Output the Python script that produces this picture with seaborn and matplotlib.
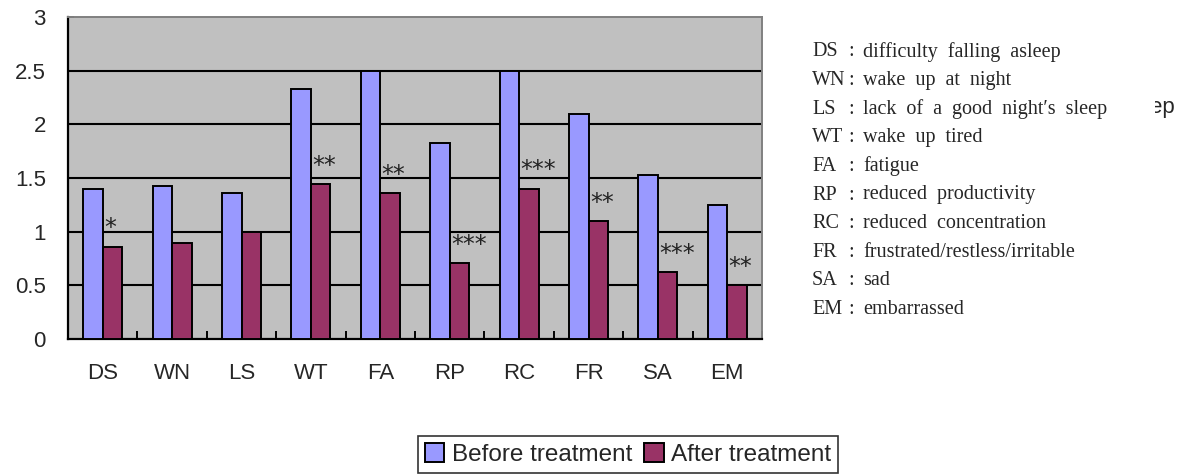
import numpy as np
import pandas as pd
import matplotlib
matplotlib.use('Agg')
import matplotlib.pyplot as plt
from matplotlib.transforms import Bbox
import seaborn as sns

sns.set_style('white')
plt.rcParams['font.family'] = ['Liberation Sans', 'DejaVu Sans']

# data
symptoms = ['DS', 'WN', 'LS', 'WT', 'FA', 'RP', 'RC', 'FR', 'SA', 'EM']
before = [1.40, 1.43, 1.36, 2.33, 2.50, 1.83, 2.50, 2.10, 1.53, 1.25]
after = [0.86, 0.89, 1.00, 1.44, 1.36, 0.71, 1.40, 1.10, 0.62, 0.50]
stars = ['*', '', '', '**', '**', '***', '***', '**', '***', '**']
meanings = ['difficulty falling asleep', 'wake up at night',
            "lack of a good night\u2032s sleep", 'wake up tired', 'fatigue',
            'reduced productivity', 'reduced concentration',
            'frustrated/restless/irritable', 'sad', 'embarrassed']

df = pd.DataFrame({'symptom': symptoms * 2,
                   'score': before + after,
                   'period': ['Before treatment'] * 10 + ['After treatment'] * 10})

fig = plt.figure(figsize=(11.85, 4.74), dpi=100)
ax = fig.add_axes([68 / 1185, 1 - 339 / 474, 694 / 1185, 322 / 474])
ax.set_facecolor('#C0C0C0')

sns.barplot(data=df, x='symptom', y='score', hue='period', ax=ax,
            palette=['#9999FF', '#993366'], saturation=1, width=0.56, gap=0,
            edgecolor='black', linewidth=1.4, zorder=3)

ax.set_ylim(0, 3)
ax.set_xlim(-0.5, 9.5)
ax.set_yticks(np.arange(0, 3.01, 0.5))
ax.set_yticklabels(['0', '0.5', '1', '1.5', '2', '2.5', '3'])
for yv in np.arange(0.5, 2.51, 0.5):
    ax.axhline(yv, color='black', lw=1.5, zorder=1)
ax.set_xlabel('')
ax.set_ylabel('')
ax.tick_params(axis='y', which='major', left=True, length=4, width=1.2,
               labelsize=16, pad=16, direction='in', color='black')
ax.tick_params(axis='x', which='major', bottom=False, labelsize=16, pad=14)
ax.set_xticks(np.arange(-0.5, 9.6, 1), minor=True)
ax.tick_params(axis='x', which='minor', bottom=True, length=6, width=1.4,
               direction='in', color='black')
for side in ['left', 'bottom']:
    ax.spines[side].set_color('black')
    ax.spines[side].set_linewidth(1.6)
for side in ['top', 'right']:
    ax.spines[side].set_color('#808080')
    ax.spines[side].set_linewidth(1.4)

# significance marks, starting at the left edge of the after-treatment bar
for i, s in enumerate(stars):
    if s:
        ax.text(i + 0.02, after[i] + 0.17, s, ha='left', va='center',
                fontsize=17, zorder=4, color='#222222', family='DejaVu Sans')

handles, labels = ax.get_legend_handles_labels()
ax.legend_.remove()
leg = fig.legend(handles, labels, loc='upper center',
                 bbox_to_anchor=(628 / 1185, 1 - 436 / 474),
                 ncol=2, frameon=True, fancybox=False, edgecolor='black',
                 fontsize=17.5, handlelength=0.8, handleheight=0.8,
                 handletextpad=0.3, columnspacing=0.5,
                 borderpad=0.3, borderaxespad=0)
leg.get_frame().set_linewidth(1.2)

# abbreviation key on the right
for k, (ab, m) in enumerate(zip(symptoms, meanings)):
    yy = 1 - (52 + k * 28.6) / 474
    fig.text(812 / 1185, yy, ab, family='Liberation Serif', fontsize=14.5, va='center')
    fig.text(848 / 1185, yy, ':', family='Liberation Serif', fontsize=14.5, va='center')
    fig.text(863 / 1185, yy, m.replace(' ', '  '), family='Liberation Serif',
             fontsize=14.5, va='center')

# leftover fragment of text cut off at the right edge
t = fig.text(1150 / 1185, 1 - 108 / 474, 'ep', fontsize=16, va='center')
t.set_clip_box(Bbox([[1155, 0], [1185, 474]]))
t.set_clip_on(True)

fig.savefig('out.png', dpi=100)
